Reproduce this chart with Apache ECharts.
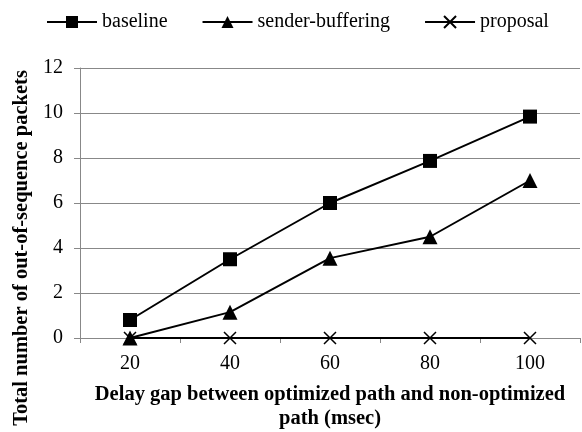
<!DOCTYPE html>
<html>
<head>
<meta charset="utf-8">
<script src="https://cdn.jsdelivr.net/npm/echarts@6/dist/echarts.min.js"></script>
<style>
	html, body { margin: 0; padding: 0; background: #fff; }
	#chart { width: 582px; height: 432px; }
</style>
</head>
<body>
<div id="chart"></div>
<script>
	const categories = ['20', '40', '60', '80', '100'];
	const baseline = [0.8, 3.5, 6.0, 7.87, 9.84];
	const senderBuffering = [0, 1.15, 3.55, 4.5, 7.0];
	const proposal = [0, 0, 0, 0, 0];

	const font = 'Liberation Serif, Times New Roman, serif';
	const crossPath = 'path://M0,0L10,10M10,0L0,10';

	const myChart = echarts.init(document.getElementById('chart'));
	const option = {
		backgroundColor: '#fff',
		textStyle: { fontFamily: font },
		legend: {
			top: 7,
			left: 41,
			itemWidth: 50,
			itemHeight: 15,
			itemGap: 34,
			textStyle: { fontFamily: font, fontSize: 20, color: '#000' },
			data: ['baseline', 'sender-buffering', 'proposal']
		},
		grid: { left: 80, right: 2, top: 68, bottom: 94, outerBoundsMode: 'none' },
		xAxis: {
			type: 'category',
			data: categories,
			boundaryGap: true,
			name: 'Delay gap between optimized path and non-optimized\npath (msec)',
			nameLocation: 'middle',
			nameGap: 45,
			nameTextStyle: { fontFamily: font, fontSize: 20.5, fontWeight: 'bold', color: '#000', lineHeight: 24 },
			axisLine: { lineStyle: { color: '#888', width: 1 } },
			axisTick: { show: true, length: 5, lineStyle: { color: '#888' } },
			axisLabel: { fontFamily: font, fontSize: 20, color: '#000', margin: 16 }
		},
		yAxis: {
			type: 'value',
			min: 0,
			max: 12,
			interval: 2,
			name: 'Total number of out-of-sequence packets',
			nameLocation: 'middle',
			nameGap: 48,
			nameTextStyle: { fontFamily: font, fontSize: 20.5, fontWeight: 'bold', color: '#000', padding: [0, 90, 0, 0] },
			axisLine: { show: true, lineStyle: { color: '#888', width: 1 } },
			axisTick: { show: true, length: 6, lineStyle: { color: '#888' } },
			axisLabel: { fontFamily: font, fontSize: 20, color: '#000', margin: 17 },
			splitLine: { lineStyle: { color: '#888', width: 1 } }
		},
		series: [
			{
				name: 'baseline',
				type: 'line',
				data: baseline,
				symbol: 'rect',
				symbolSize: 14,
				lineStyle: { color: '#000', width: 2 },
				itemStyle: { color: '#000' }
			},
			{
				name: 'sender-buffering',
				type: 'line',
				data: senderBuffering,
				symbol: 'triangle',
				symbolSize: 15,
				lineStyle: { color: '#000', width: 2 },
				itemStyle: { color: '#000' }
			},
			{
				name: 'proposal',
				type: 'line',
				data: proposal,
				symbol: crossPath,
				symbolSize: 12,
				lineStyle: { color: '#000', width: 2 },
				itemStyle: { color: '#000', borderColor: '#000', borderWidth: 1.5 }
			}
		]
	};
	myChart.setOption(option);
</script>
</body>
</html>
